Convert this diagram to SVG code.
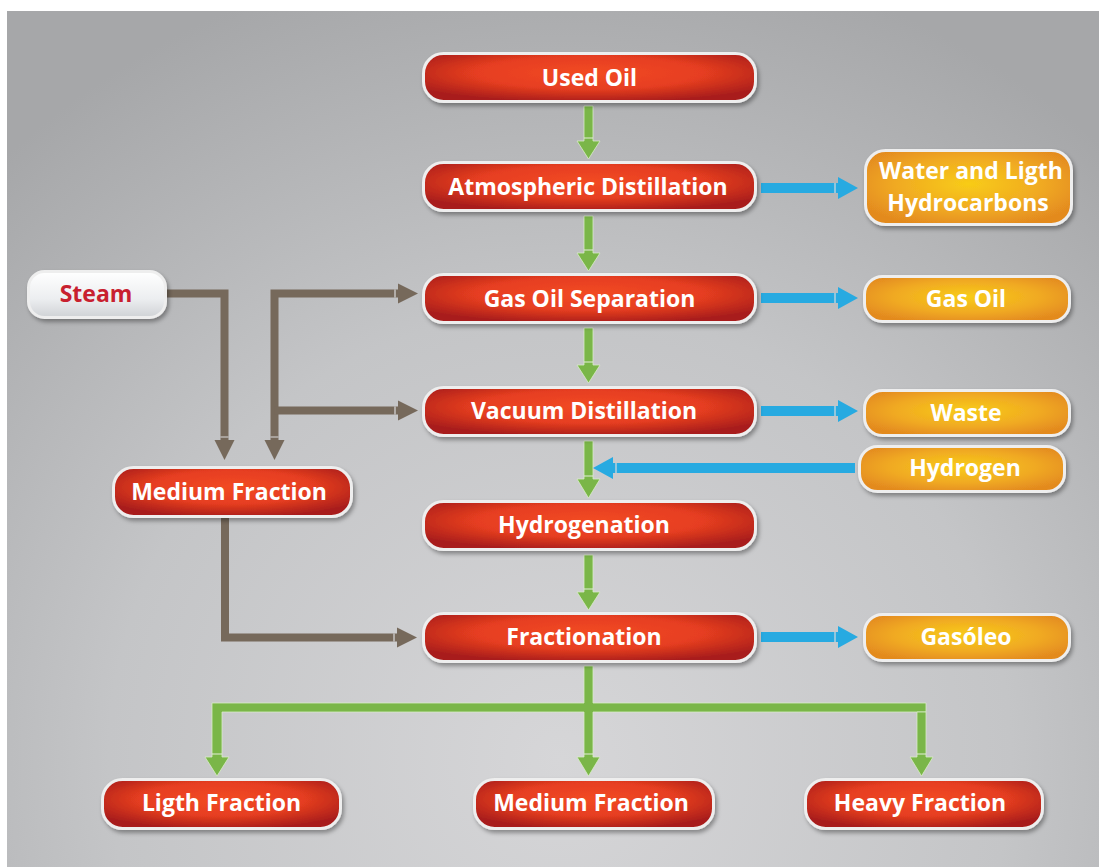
<svg xmlns="http://www.w3.org/2000/svg" width="1099" height="867" viewBox="0 0 1099 867">
<defs>
<radialGradient id="bg" cx="560" cy="760" r="820" gradientUnits="userSpaceOnUse">
<stop offset="0" stop-color="#d6d6d8"/>
<stop offset="0.55" stop-color="#c4c5c7"/>
<stop offset="1" stop-color="#a6a7a9"/>
</radialGradient>
<radialGradient id="red" cx="0.5" cy="0.4" r="0.62">
<stop offset="0" stop-color="#f24a22"/>
<stop offset="0.55" stop-color="#e63e20"/>
<stop offset="1" stop-color="#a81d1b"/>
</radialGradient>
<radialGradient id="org" cx="0.5" cy="0.45" r="0.6">
<stop offset="0" stop-color="#f8cc18"/>
<stop offset="0.6" stop-color="#f0a922"/>
<stop offset="1" stop-color="#e38a1f"/>
</radialGradient>
<linearGradient id="wht" x1="0" y1="0" x2="0" y2="1">
<stop offset="0" stop-color="#ffffff"/>
<stop offset="0.6" stop-color="#eceef0"/>
<stop offset="1" stop-color="#cfd2d5"/>
</linearGradient>
<filter id="sh" x="-10%" y="-20%" width="125%" height="150%">
<feDropShadow dx="2" dy="3" stdDeviation="2" flood-color="#000" flood-opacity="0.35"/>
</filter>
</defs>
<style>
.nd{stroke:#eeeeee;stroke-width:3;filter:url(#sh)}
.r{fill:url(#red)}
.o{fill:url(#org)}
.w{fill:url(#wht)}
.t{font-family:"Open Sans","Liberation Sans",sans-serif;font-weight:700;font-size:23px;fill:#ffffff;text-anchor:middle}
.ts{fill:#c8202f}
.g{fill:#7ab648;stroke:#d9ecc8;stroke-width:0.8}
.b{fill:#27aae1}
.br{fill:#76695b}
.brl{fill:none;stroke:#76695b;stroke-width:8;stroke-linejoin:miter}
.sep{stroke:#e4efd8;stroke-width:1}
.sepb{stroke:#d9dadb;stroke-width:1.2}
</style>
<rect x="7" y="11" width="1092" height="856" fill="url(#bg)"/>

<g id="connectors">
<!-- green vertical arrows main column -->
<path class="g" d="M584,106 H593 V141 H600 L588.5,159 L577,141 H584 Z"/>
<path class="g" d="M584,216 H593 V253 H600 L588.5,271 L577,253 H584 Z"/>
<path class="g" d="M584,328 H593 V365 H600 L588.5,383 L577,365 H584 Z"/>
<path class="g" d="M584,441 H593 V479 H600 L588.5,498 L577,479 H584 Z"/>
<path class="g" d="M584,555 H593 V592 H600 L588.5,610 L577,592 H584 Z"/>
<!-- distribution -->
<path class="g" d="M584,666 H593 V703 H926 V712 H593 V757 H600 L588.5,776 L577,757 H584 V712 H222 V757 H229 L217,776 L205,757 H212 V703 H584 Z"/>
<path class="g" d="M917,712 H926 V757 H933 L921.5,776 L910,757 H917 Z"/>
<path class="sep" d="M584,138 H593 M584,250 H593 M584,362 H593 M584,476 H593 M584,589 H593 M584,754 H593 M212,754 H222 M917,754 H926"/>
<!-- blue arrows -->
<path class="b" d="M761,183 H838 V177 L858,188 L838,199 V193 H761 Z"/>
<path class="b" d="M761,293 H838 V287 L858,298 L838,309 V303 H761 Z"/>
<path class="b" d="M761,406 H838 V400 L858,411 L838,422 V416 H761 Z"/>
<path class="b" d="M761,632 H838 V626 L858,637 L838,648 V642 H761 Z"/>
<path class="b" d="M855,463 H613 V457 L593,468 L613,479 V473 H855 Z"/>
<path class="sepb" d="M835,183 V193 M835,293 V303 M835,406 V416 M835,632 V642 M616,463 V473"/>
<!-- brown connectors -->
<path class="brl" d="M167,293.5 H224.5 V441"/>
<path class="br" d="M214.5,440 H234.5 L224.5,460 Z"/>
<path class="brl" d="M399,293.5 H274.5 V441"/>
<path class="br" d="M264.5,440 H284.5 L274.5,460 Z"/>
<path class="br" d="M398,283.5 L418,293.5 L398,303.5 Z"/>
<path class="brl" d="M274.5,410.5 H399"/>
<path class="br" d="M398,400.5 L418,410.5 L398,420.5 Z"/>
<path class="brl" d="M225,518 V637.5 H398"/>
<path class="br" d="M397,627.5 L417,637.5 L397,647.5 Z"/>
<path class="sepb" d="M220.5,437 H228.5 M270.5,437 H278.5 M395,289.5 V297.5 M395,406.5 V414.5 M394,633.5 V641.5"/>
</g>

<g id="used-oil"><rect class="nd r" x="423.5" y="53.5" width="332" height="48" rx="20"/><text class="t" x="589.5" y="86">Used Oil</text></g>
<g id="atmospheric-distillation"><rect class="nd r" x="423.5" y="162.5" width="332" height="48" rx="20"/><text class="t" x="588" y="195">Atmospheric Distillation</text></g>
<g id="gas-oil-separation"><rect class="nd r" x="423.5" y="274.5" width="332" height="48" rx="20"/><text class="t" x="589.5" y="307">Gas Oil Separation</text></g>
<g id="vacuum-distillation"><rect class="nd r" x="423.5" y="387.5" width="332" height="48" rx="20"/><text class="t" x="584" y="419">Vacuum Distillation</text></g>
<g id="hydrogenation"><rect class="nd r" x="423.5" y="501.5" width="332" height="48" rx="20"/><text class="t" x="584" y="533">Hydrogenation</text></g>
<g id="fractionation"><rect class="nd r" x="423.5" y="613.5" width="332" height="48" rx="20"/><text class="t" x="584" y="645">Fractionation</text></g>
<g id="medium-fraction-left"><rect class="nd r" x="113.5" y="467.5" width="238" height="49" rx="20"/><text class="t" x="229" y="500">Medium Fraction</text></g>
<g id="ligth-fraction"><rect class="nd r" x="102.5" y="779.5" width="238" height="49" rx="20"/><text class="t" x="221.5" y="811">Ligth Fraction</text></g>
<g id="medium-fraction-bottom"><rect class="nd r" x="474.5" y="779.5" width="239" height="49" rx="20"/><text class="t" x="591" y="811">Medium Fraction</text></g>
<g id="heavy-fraction"><rect class="nd r" x="805.5" y="779.5" width="237" height="49" rx="20"/><text class="t" x="920" y="811">Heavy Fraction</text></g>

<g id="water-light-hydrocarbons"><rect class="nd o" x="865.5" y="150.5" width="206" height="74" rx="20"/><text class="t" x="971" y="179">Water and Ligth</text><text class="t" x="968" y="211">Hydrocarbons</text></g>
<g id="gas-oil"><rect class="nd o" x="864.5" y="276.5" width="205" height="45" rx="18"/><text class="t" x="966" y="307">Gas Oil</text></g>
<g id="waste"><rect class="nd o" x="864.5" y="390.5" width="205" height="45" rx="18"/><text class="t" x="966" y="421">Waste</text></g>
<g id="hydrogen"><rect class="nd o" x="859.5" y="446.5" width="205" height="45" rx="18"/><text class="t" x="965" y="476">Hydrogen</text></g>
<g id="gasoleo"><rect class="nd o" x="864.5" y="614.5" width="205" height="46" rx="18"/><text class="t" x="966" y="645">Gasóleo</text></g>
<g id="steam"><rect class="nd w" x="28.5" y="271.5" width="137" height="46" rx="16" stroke="#e2e4e6"/><text class="t ts" x="96" y="302">Steam</text></g>
</svg>
